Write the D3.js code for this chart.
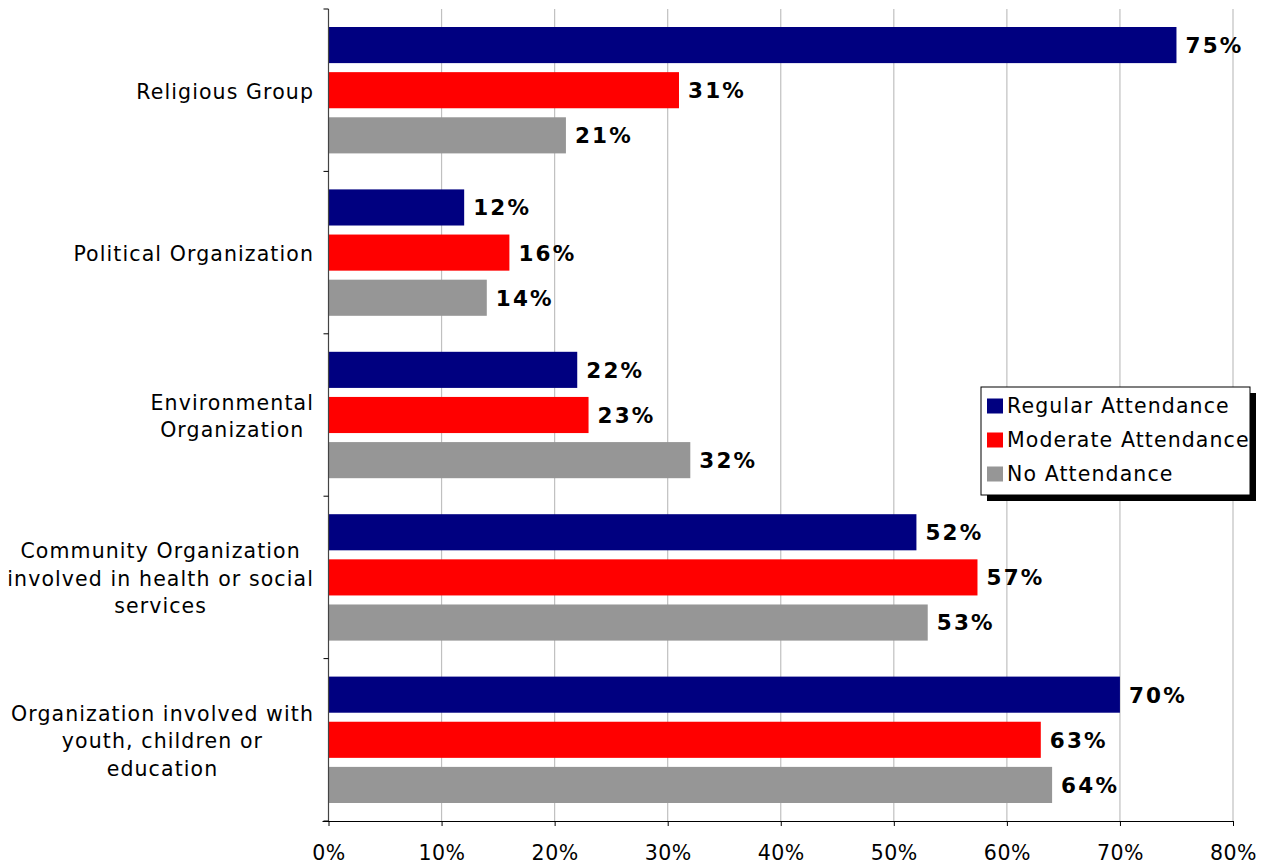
<!DOCTYPE html>
<html>
<head>
<meta charset="utf-8">
<script src="https://cdn.jsdelivr.net/npm/d3@7"></script>
<style>
  html, body { margin: 0; padding: 0; background: #fff; }
  svg { display: block; font-family: Verdana, "DejaVu Sans", sans-serif; }
</style>
</head>
<body>
<svg id="chart" width="1276" height="865"></svg>
<script>
const categories = [
  ["Religious Group"],
  ["Political Organization"],
  ["Environmental", "Organization"],
  ["Community Organization", "involved in health or social", "services"],
  ["Organization involved with", "youth, children or", "education"]
];
const seriesNames = ["Regular Attendance", "Moderate Attendance", "No Attendance"];
const seriesColors = ["#000080", "#ff0000", "#969696"];
const regular  = [75, 12, 22, 52, 70];
const moderate = [31, 16, 23, 57.4, 63];
const none     = [21, 14, 32, 53, 64];
const xTicks = [0, 10, 20, 30, 40, 50, 60, 70, 80];

(function () {
const seriesValues = [regular, moderate, none];
const svg = d3.select("#chart");
const pLeft = 328.5, pRight = 1233, pTop = 9, pBottom = 821;
const FS = 20.5, LS = 1.1;

const x = d3.scaleLinear().domain([0, 80]).range([pLeft, pRight]);
const catIdx = categories.map((_, i) => i);
const y0 = d3.scaleBand().domain(catIdx).range([pTop, pBottom]);
const y1 = d3.scaleBand().domain(seriesNames)
  .range([18, y0.bandwidth() - 18]).paddingInner(0.2);

// gridlines
svg.append("g").selectAll("line").data(xTicks.slice(1)).join("line")
  .attr("x1", d => x(d)).attr("x2", d => x(d))
  .attr("y1", pTop).attr("y2", pBottom)
  .attr("stroke", "#c0c0c0").attr("stroke-width", 1.2);

// bars
const rows = i => seriesNames.map((s, k) => ({s, k, v: seriesValues[k][i]}));
const groups = svg.append("g").selectAll("g").data(catIdx).join("g")
  .attr("transform", i => `translate(0,${y0(i)})`);
groups.selectAll("rect").data(rows).join("rect")
  .attr("x", x(0)).attr("y", d => y1(d.s))
  .attr("width", d => x(d.v) - x(0)).attr("height", y1.bandwidth())
  .attr("fill", d => seriesColors[d.k]);
groups.selectAll("text").data(rows).join("text")
  .attr("x", d => x(d.v) + 9).attr("y", d => y1(d.s) + y1.bandwidth() / 2)
  .attr("dy", "0.37em")
  .attr("font-size", 21.5).attr("font-weight", "bold").attr("fill", "#000")
  .attr("letter-spacing", 2.2)
  .text(d => Math.round(d.v) + "%");

// x axis
const xAxis = svg.append("g").attr("transform", `translate(0,${pBottom})`)
  .call(d3.axisBottom(x).tickValues(xTicks).tickSize(5).tickSizeOuter(0).tickFormat(d => d + "%"));
xAxis.select(".domain").attr("stroke", "#000").attr("d", `M${pLeft - 6},0.5H${pRight}`);
xAxis.selectAll(".tick line").attr("stroke", "#000");
xAxis.selectAll(".tick text").attr("font-size", FS).attr("fill", "#000")
  .attr("font-family", "Verdana, 'DejaVu Sans', sans-serif")
  .attr("letter-spacing", 0.5)
  .attr("y", 39).attr("dy", 0);

// y axis line + ticks at band boundaries
svg.append("line").attr("x1", pLeft).attr("x2", pLeft).attr("y1", pTop).attr("y2", pBottom)
  .attr("stroke", "#444").attr("stroke-width", 1.2);
const bounds = catIdx.map(i => y0(i)).concat([pBottom]);
svg.append("g").selectAll("line").data(bounds).join("line")
  .attr("x1", pLeft - 5).attr("x2", pLeft).attr("y1", d => d).attr("y2", d => d)
  .attr("stroke", "#000");

// category labels
const labelRight = 314, lineH = 27.6;
catIdx.forEach(i => {
  const lines = categories[i];
  const g = svg.append("g");
  const cy = y0(i) + y0.bandwidth() / 2;
  const texts = lines.map((t, j) => g.append("text")
    .attr("font-size", FS).attr("fill", "#000").attr("letter-spacing", LS)
    .attr("text-anchor", "middle")
    .attr("y", cy + (j - (lines.length - 1) / 2) * lineH)
    .attr("dy", "0.41em").text(t));
  const maxW = d3.max(texts, t => t.node().getComputedTextLength());
  texts.forEach(t => t.attr("x", labelRight - maxW / 2));
});

// legend
const lx = 981, ly = 387, lw = 269, lh = 108;
const leg = svg.append("g");
leg.append("rect").attr("x", lx + 6).attr("y", ly + 6).attr("width", lw).attr("height", lh).attr("fill", "#000");
leg.append("rect").attr("x", lx).attr("y", ly).attr("width", lw).attr("height", lh)
  .attr("fill", "#fff").attr("stroke", "#000").attr("stroke-width", 1);
seriesNames.forEach((s, k) => {
  const cy = ly + 19 + k * 34;
  leg.append("rect").attr("x", lx + 6).attr("y", cy - 7.5).attr("width", 16).attr("height", 15)
    .attr("fill", seriesColors[k]);
  leg.append("text").attr("x", lx + 26).attr("y", cy).attr("dy", "0.36em")
    .attr("font-size", FS).attr("fill", "#000").attr("letter-spacing", LS).text(s);
});
})();
</script>
</body>
</html>
